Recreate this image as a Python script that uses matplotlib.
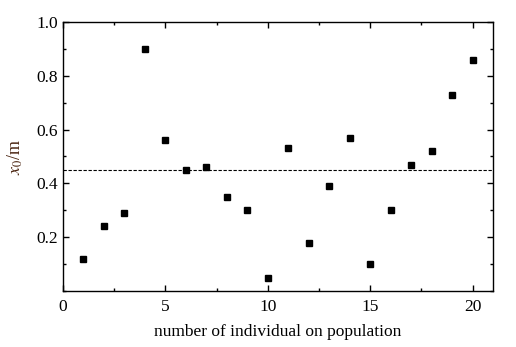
import numpy as np
import matplotlib.pyplot as plt
from matplotlib.ticker import MultipleLocator

individual = np.arange(1, 21)
x0 = [0.12, 0.24, 0.29, 0.90, 0.56, 0.45, 0.46, 0.35, 0.30, 0.05,
      0.53, 0.18, 0.39, 0.57, 0.10, 0.30, 0.47, 0.52, 0.73, 0.86]
reference_level = 0.45

plt.rcParams['font.family'] = ['Liberation Serif', 'DejaVu Serif']
plt.rcParams['mathtext.fontset'] = 'stix'

fig = plt.figure(figsize=(5.16, 3.47), dpi=100)
ax = fig.add_axes([0.1221, 0.1614, 0.8333, 0.7752])

ax.plot(individual, x0, 's', color='black', markersize=5)
ax.axhline(reference_level, color='black', linewidth=0.8, dashes=(3, 1.5))

ax.set_xlim(0, 21)
ax.set_ylim(0, 1.0)
ax.xaxis.set_major_locator(MultipleLocator(5))
ax.xaxis.set_minor_locator(MultipleLocator(2.5))
ax.set_yticks([0.2, 0.4, 0.6, 0.8, 1.0])
ax.yaxis.set_minor_locator(MultipleLocator(0.1))
ax.tick_params(which='both', direction='in', top=True, right=True, labelsize=12.5, width=1)
ax.tick_params(which='major', length=4.3)
ax.tick_params(axis='x', which='major', pad=6)
ax.tick_params(which='minor', length=2.2)
for s in ax.spines.values():
    s.set_linewidth(1)

ax.set_xlabel('number of individual on population', fontsize=12.5, labelpad=6)
ax.set_ylabel(r'$x_0$/m', fontsize=13, color='#4a2410', labelpad=8)

fig.savefig('out.png', dpi=100)
